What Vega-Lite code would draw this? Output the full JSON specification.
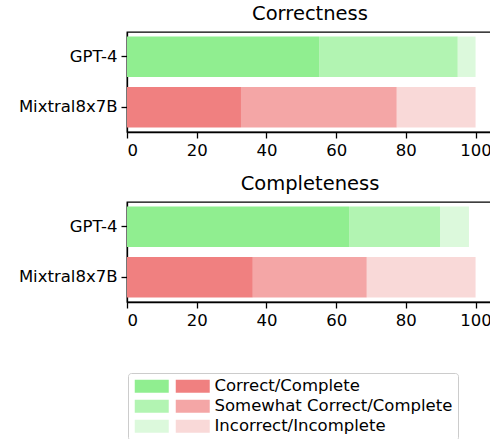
{
  "$schema": "https://vega.github.io/schema/vega-lite/v6.json",
  "padding": {"left": 17, "top": 2, "right": 0, "bottom": 0},
  "background": "white",
  "data": {"values": [
    {"panel": "Correctness", "model": "GPT-4", "category": "Correct/Complete", "rank": 1, "series": "GPT-4|Correct/Complete", "value": 55.1},
    {"panel": "Correctness", "model": "GPT-4", "category": "Somewhat Correct/Complete", "rank": 2, "series": "GPT-4|Somewhat Correct/Complete", "value": 39.8},
    {"panel": "Correctness", "model": "GPT-4", "category": "Incorrect/Incomplete", "rank": 3, "series": "GPT-4|Incorrect/Incomplete", "value": 5.1},
    {"panel": "Correctness", "model": "Mixtral8x7B", "category": "Correct/Complete", "rank": 1, "series": "Mixtral8x7B|Correct/Complete", "value": 32.7},
    {"panel": "Correctness", "model": "Mixtral8x7B", "category": "Somewhat Correct/Complete", "rank": 2, "series": "Mixtral8x7B|Somewhat Correct/Complete", "value": 44.7},
    {"panel": "Correctness", "model": "Mixtral8x7B", "category": "Incorrect/Incomplete", "rank": 3, "series": "Mixtral8x7B|Incorrect/Incomplete", "value": 22.6},
    {"panel": "Completeness", "model": "GPT-4", "category": "Correct/Complete", "rank": 1, "series": "GPT-4|Correct/Complete", "value": 63.7},
    {"panel": "Completeness", "model": "GPT-4", "category": "Somewhat Correct/Complete", "rank": 2, "series": "GPT-4|Somewhat Correct/Complete", "value": 26.1},
    {"panel": "Completeness", "model": "GPT-4", "category": "Incorrect/Incomplete", "rank": 3, "series": "GPT-4|Incorrect/Incomplete", "value": 8.3},
    {"panel": "Completeness", "model": "Mixtral8x7B", "category": "Correct/Complete", "rank": 1, "series": "Mixtral8x7B|Correct/Complete", "value": 36.1},
    {"panel": "Completeness", "model": "Mixtral8x7B", "category": "Somewhat Correct/Complete", "rank": 2, "series": "Mixtral8x7B|Somewhat Correct/Complete", "value": 32.7},
    {"panel": "Completeness", "model": "Mixtral8x7B", "category": "Incorrect/Incomplete", "rank": 3, "series": "Mixtral8x7B|Incorrect/Incomplete", "value": 31.2}
  ]},
  "config": {
    "font": "DejaVu Sans",
    "view": {"stroke": "black", "strokeWidth": 1.3},
    "axis": {"domainColor": "black", "tickColor": "black", "labelColor": "black", "labelFontSize": 16.5, "tickSize": 6, "tickWidth": 1.3, "domainWidth": 1.3, "labelPadding": 4, "grid": false, "title": null, "labelFont": "DejaVu Sans"},
    "title": {"fontSize": 19.5, "fontWeight": "normal", "color": "black", "anchor": "middle", "offset": 8, "font": "DejaVu Sans"},
    "concat": {"spacing": 12},
    "legend": {"orient": "none", "legendX": 1, "legendY": 341, "title": null, "columns": 2, "direction": "horizontal", "gridAlign": "none", "symbolType": "M-1,-1H4.23V1H-1Z", "symbolSize": 169, "symbolStrokeWidth": 0, "symbolOpacity": 1, "labelFontSize": 16.5, "labelFont": "DejaVu Sans", "labelColor": "black", "labelOffset": 24, "columnPadding": 0, "rowPadding": 3, "strokeColor": "#cccccc", "padding": 5, "cornerRadius": 3, "fillColor": "white", "labelLimit": 400}
  },
  "vconcat": [
    {
      "title": "Correctness",
      "width": 366, "height": 100,
      "transform": [{"filter": "datum.panel === 'Correctness'"}],
      "mark": {"type": "bar"},
      "encoding": {
        "y": {"field": "model", "type": "nominal", "sort": ["GPT-4", "Mixtral8x7B"], "scale": {"paddingInner": 0.2, "paddingOuter": 0.09}, "axis": {"title": null}},
        "x": {"field": "value", "type": "quantitative", "stack": "zero", "scale": {"domain": [0, 105], "nice": false}, "axis": {"values": [0, 20, 40, 60, 80, 100], "title": null}},
        "color": {"field": "series", "type": "nominal",
          "scale": {"domain": ["GPT-4|Correct/Complete", "Mixtral8x7B|Correct/Complete", "GPT-4|Somewhat Correct/Complete", "Mixtral8x7B|Somewhat Correct/Complete", "GPT-4|Incorrect/Incomplete", "Mixtral8x7B|Incorrect/Incomplete"],
                    "range": ["#90ee90", "#f08080", "#b2f4b2", "#f4a6a6", "#dcf9dc", "#f9d9d8"]},
          "legend": {"labelExpr": "indexof(datum.label, 'GPT') === 0 ? '' : split(datum.label, '|')[1]"}},
        "order": {"field": "rank", "type": "quantitative"}
      }
    },
    {
      "title": "Completeness",
      "width": 366, "height": 100,
      "transform": [{"filter": "datum.panel === 'Completeness'"}],
      "mark": {"type": "bar"},
      "encoding": {
        "y": {"field": "model", "type": "nominal", "sort": ["GPT-4", "Mixtral8x7B"], "scale": {"paddingInner": 0.2, "paddingOuter": 0.09}, "axis": {"title": null}},
        "x": {"field": "value", "type": "quantitative", "stack": "zero", "scale": {"domain": [0, 105], "nice": false}, "axis": {"values": [0, 20, 40, 60, 80, 100], "title": null}},
        "color": {"field": "series", "type": "nominal",
          "scale": {"domain": ["GPT-4|Correct/Complete", "Mixtral8x7B|Correct/Complete", "GPT-4|Somewhat Correct/Complete", "Mixtral8x7B|Somewhat Correct/Complete", "GPT-4|Incorrect/Incomplete", "Mixtral8x7B|Incorrect/Incomplete"],
                    "range": ["#90ee90", "#f08080", "#b2f4b2", "#f4a6a6", "#dcf9dc", "#f9d9d8"]},
          "legend": {"labelExpr": "indexof(datum.label, 'GPT') === 0 ? '' : split(datum.label, '|')[1]"}},
        "order": {"field": "rank", "type": "quantitative"}
      }
    }
  ]
}
